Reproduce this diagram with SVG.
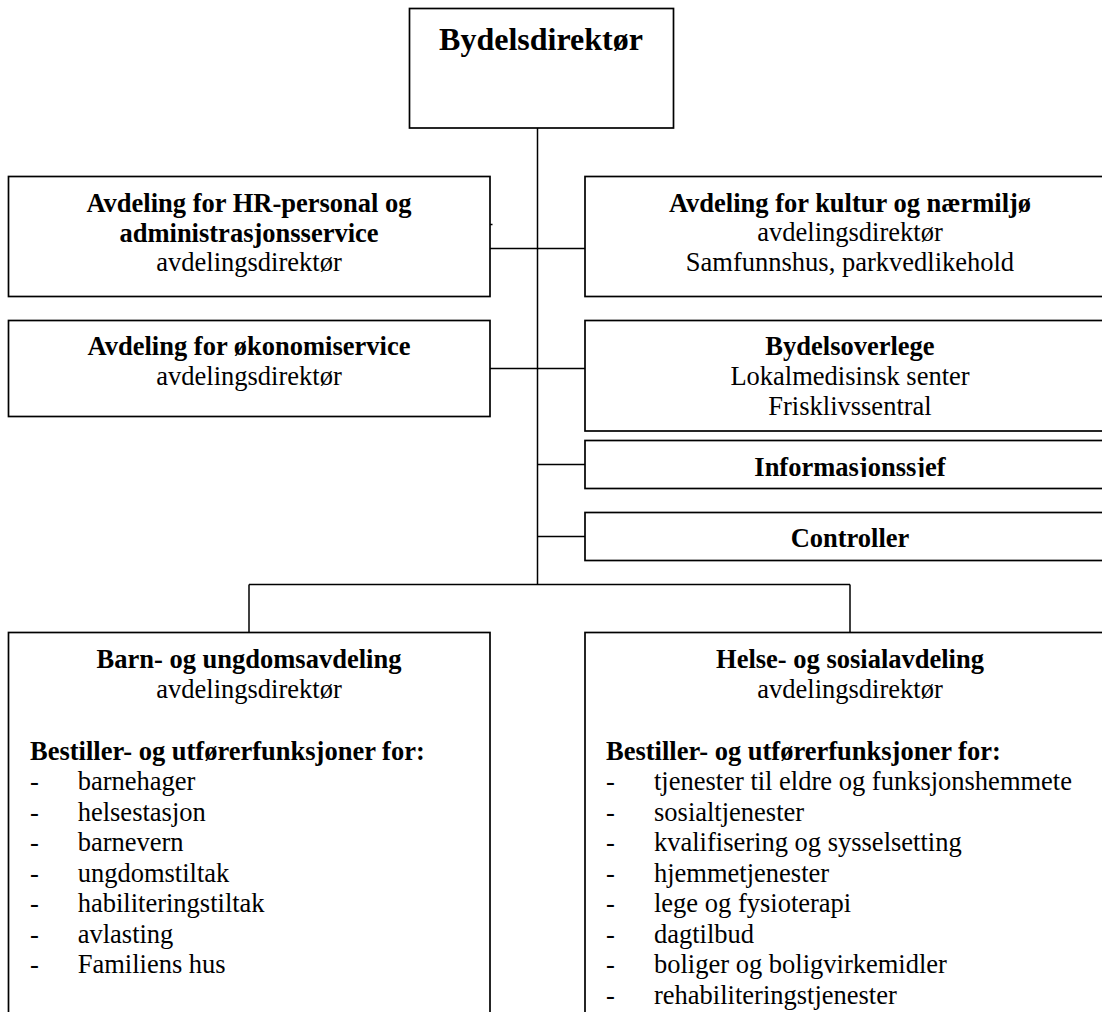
<svg xmlns="http://www.w3.org/2000/svg" width="1102" height="1012" viewBox="0 0 1102 1012">
<style>
  .box { fill: #ffffff; stroke: #000000; stroke-width: 1.7; }
  .conn line { stroke: #000000; stroke-width: 1.5; }
  text { font-family: "Liberation Serif", "Times New Roman", serif; font-size: 26.5px; fill: #000000; }
  .b { font-weight: bold; }
  .c { text-anchor: middle; }
  .title { font-size: 32px; font-weight: bold; }
</style>
<defs>
  <clipPath id="clipInfo"><rect x="585" y="440" width="530" height="37"/></clipPath>
</defs>
<rect width="1102" height="1012" fill="#ffffff"/>

<g id="connectors" class="conn">
  <line x1="537.5" y1="128" x2="537.5" y2="584.5"/>
  <line x1="490" y1="248.5" x2="585" y2="248.5"/>
  <line x1="490" y1="368.5" x2="585" y2="368.5"/>
  <line x1="537.5" y1="464.5" x2="585" y2="464.5"/>
  <line x1="537.5" y1="536.5" x2="585" y2="536.5"/>
  <line x1="249" y1="584.5" x2="850" y2="584.5"/>
  <line x1="249" y1="584.5" x2="249" y2="632.5"/>
  <line x1="850" y1="584.5" x2="850" y2="632.5"/>
  <line x1="490" y1="224.5" x2="492.5" y2="224.5"/>
</g>

<g id="node-bydelsdirektor">
  <rect class="box" x="409.5" y="8.5" width="264" height="119.5"/>
  <text class="title c" x="541" y="50">Bydelsdirektør</text>
</g>

<g id="node-hr">
  <rect class="box" x="8.5" y="176.5" width="481.5" height="120"/>
  <text class="b c" x="249" y="212">Avdeling for HR-personal og</text>
  <text class="b c" x="249" y="241.5">administrasjonsservice</text>
  <text class="c" x="249" y="270.5">avdelingsdirektør</text>
</g>

<g id="node-kultur">
  <rect class="box" x="585" y="176.5" width="530" height="120"/>
  <text class="b c" x="850" y="211.5">Avdeling for kultur og nærmiljø</text>
  <text class="c" x="850" y="241">avdelingsdirektør</text>
  <text class="c" x="850" y="271">Samfunnshus, parkvedlikehold</text>
</g>

<g id="node-okonomi">
  <rect class="box" x="8.5" y="320.5" width="481.5" height="96"/>
  <text class="b c" x="249" y="355">Avdeling for økonomiservice</text>
  <text class="c" x="249" y="384.5">avdelingsdirektør</text>
</g>

<g id="node-bydelsoverlege">
  <rect class="box" x="585" y="320.5" width="530" height="110.5"/>
  <text class="b c" x="850" y="355">Bydelsoverlege</text>
  <text class="c" x="850" y="385">Lokalmedisinsk senter</text>
  <text class="c" x="850" y="415">Frisklivssentral</text>
</g>

<g id="node-informasjonssjef">
  <rect class="box" x="585" y="440.5" width="530" height="48"/>
  <text class="b c" x="850" y="475.5" clip-path="url(#clipInfo)">Informasjonssjef</text>
</g>

<g id="node-controller">
  <rect class="box" x="585" y="512.5" width="530" height="48"/>
  <text class="b c" x="850" y="547">Controller</text>
</g>

<g id="node-barn">
  <rect class="box" x="8.5" y="632.5" width="481.5" height="400"/>
  <text class="b c" x="249" y="667.5">Barn- og ungdomsavdeling</text>
  <text class="c" x="249" y="697.5">avdelingsdirektør</text>
  <text class="b" x="30" y="759.5">Bestiller- og utførerfunksjoner for:</text>
  <text x="30" y="790">-</text><text x="77.7" y="790">barnehager</text>
  <text x="30" y="820.5">-</text><text x="77.7" y="820.5">helsestasjon</text>
  <text x="30" y="851">-</text><text x="77.7" y="851">barnevern</text>
  <text x="30" y="881.5">-</text><text x="77.7" y="881.5">ungdomstiltak</text>
  <text x="30" y="912">-</text><text x="77.7" y="912">habiliteringstiltak</text>
  <text x="30" y="942.5">-</text><text x="77.7" y="942.5">avlasting</text>
  <text x="30" y="973">-</text><text x="77.7" y="973">Familiens hus</text>
</g>

<g id="node-helse">
  <rect class="box" x="585" y="632.5" width="530" height="400"/>
  <text class="b c" x="850" y="667.5">Helse- og sosialavdeling</text>
  <text class="c" x="850" y="697.5">avdelingsdirektør</text>
  <text class="b" x="606" y="759.5">Bestiller- og utførerfunksjoner for:</text>
  <text x="606" y="790">-</text><text x="654" y="790">tjenester til eldre og funksjonshemmete</text>
  <text x="606" y="820.5">-</text><text x="654" y="820.5">sosialtjenester</text>
  <text x="606" y="851">-</text><text x="654" y="851">kvalifisering og sysselsetting</text>
  <text x="606" y="881.5">-</text><text x="654" y="881.5">hjemmetjenester</text>
  <text x="606" y="912">-</text><text x="654" y="912">lege og fysioterapi</text>
  <text x="606" y="942.5">-</text><text x="654" y="942.5">dagtilbud</text>
  <text x="606" y="973">-</text><text x="654" y="973">boliger og boligvirkemidler</text>
  <text x="606" y="1003.5">-</text><text x="654" y="1003.5">rehabiliteringstjenester</text>
</g>
</svg>
